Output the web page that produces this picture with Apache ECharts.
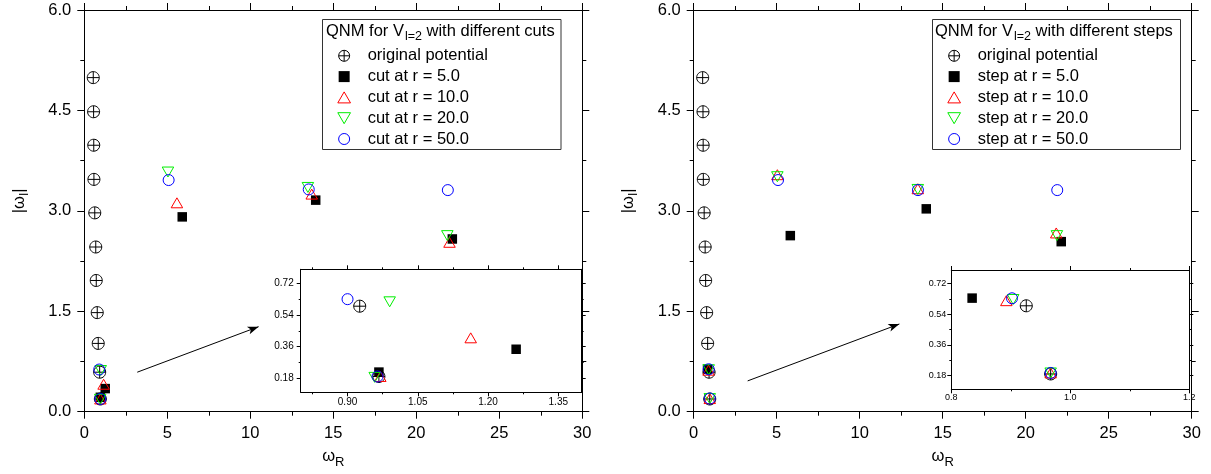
<!DOCTYPE html>
<html><head><meta charset="utf-8">
<script src="https://cdn.jsdelivr.net/npm/echarts@6/dist/echarts.min.js"></script>
<style>html,body{margin:0;padding:0;background:#fff}#c{width:1211px;height:474px}</style>
</head><body><div id="c"></div>
<script>
// ---------------- data ----------------
const origR = [0.967, 0.926, 0.84, 0.78, 0.72, 0.69, 0.63, 0.58, 0.57, 0.56, 0.54];
const origI = [0.19, 0.59, 1.02, 1.48, 1.96, 2.46, 2.97, 3.47, 3.98, 4.48, 4.99];

const cut5R  = [0.967, 1.26, 5.90, 13.94, 22.17];
const cut5I  = [0.215, 0.345, 2.91, 3.16, 2.58];
const cut10R = [0.970, 1.163, 5.58, 13.70, 22.00];
const cut10I = [0.190, 0.410, 3.12, 3.25, 2.53];
const cut20R = [0.958, 0.990, 5.04, 13.47, 21.87];
const cut20I = [0.185, 0.615, 3.58, 3.35, 2.63];
const cut50R = [0.964, 0.900, 5.08, 13.52, 21.90];
const cut50I = [0.190, 0.630, 3.46, 3.32, 3.31];

const step5R  = [0.835, 5.82, 14.01, 22.14];
const step5I  = [0.635, 2.63, 3.03, 2.54];
const step10R = [0.967, 0.8925, 5.04, 13.50, 21.84];
const step10I = [0.196, 0.620, 3.54, 3.33, 2.67];
const step20R = [0.967, 0.904, 5.04, 13.50, 21.88];
const step20I = [0.196, 0.627, 3.51, 3.32, 2.63];
const step50R = [0.967, 0.902, 5.08, 13.51, 21.90];
const step50I = [0.196, 0.634, 3.46, 3.31, 3.31];

const namesCut  = ['original potential', 'cut at r = 5.0', 'cut at r = 10.0', 'cut at r = 20.0', 'cut at r = 50.0'];
const namesStep = ['original potential', 'step at r = 5.0', 'step at r = 10.0', 'step at r = 20.0', 'step at r = 50.0'];
const titleCut  = ['QNM for V', 'l=2', ' with different cuts'];
const titleStep = ['QNM for V', 'l=2', ' with different steps'];

// tick values
const insetLXMajor = [0.90, 1.05, 1.20, 1.35];
const insetLXMinor = [0.825, 0.975, 1.125, 1.275];
const insetYMajor  = [0.18, 0.36, 0.54, 0.72];
const insetYMinor  = [0.27, 0.45, 0.63];

// annotation arrows (data coordinates)
const arrowL = [[3.19, 0.59], [10.5, 1.27]];
const arrowR = [[3.25, 0.46], [12.39, 1.31]];

// ---------------- styling ----------------
const FONT = 'Liberation Sans, Arial, Helvetica, sans-serif';
const BLACK = '#000';
const SYM = [
  {symbol: 'path://M10 0C15.52 0 20 4.48 20 10C20 15.52 15.52 20 10 20C4.48 20 0 15.52 0 10C0 4.48 4.48 0 10 0ZM0 10L20 10M10 0L10 20',
   symbolSize: 12, itemStyle: {color: 'rgba(0,0,0,0)', borderColor: '#000', borderWidth: 1, opacity: 1}},
  {symbol: 'path://M0 0L10 0L10 10L0 10Z', symbolSize: 9.5, itemStyle: {color: '#000', opacity: 1}},
  {symbol: 'path://M5 0L10 8.66L0 8.66Z', symbolSize: 11.5, itemStyle: {color: 'rgba(0,0,0,0)', borderColor: '#ff0000', borderWidth: 1, opacity: 1}},
  {symbol: 'path://M0 0L10 0L5 8.66Z', symbolSize: 11.5, itemStyle: {color: 'rgba(0,0,0,0)', borderColor: '#00ee00', borderWidth: 1, opacity: 1}},
  {symbol: 'circle', symbolSize: 11, itemStyle: {color: 'rgba(0,0,0,0)', borderColor: '#0000ff', borderWidth: 1, opacity: 1}}
];

function pairs(xs, ys) { return xs.map((x, i) => [x, ys[i]]); }

function mkSeries(names, sets, xi, yi, arrow) {
  return sets.map((s, k) => {
    const o = Object.assign({
      type: 'scatter', name: names[k], xAxisIndex: xi, yAxisIndex: yi,
      data: pairs(s[0], s[1]), symbolKeepAspect: true, animation: false,
      emphasis: {disabled: true}, z: 2 + k, clip: true
    }, JSON.parse(JSON.stringify(SYM[k])));
    if (k === 0 && arrow) {
      o.markLine = {
        silent: true, symbol: ['none', 'arrow'], symbolSize: [6, 11], animation: false,
        label: {show: false}, emphasis: {disabled: true},
        lineStyle: {color: '#000', width: 1, type: 'solid', opacity: 1},
        data: [[{coord: arrow[0]}, {coord: arrow[1]}]]
      };
    }
    return o;
  });
}

const cutSets  = [[origR, origI], [cut5R, cut5I], [cut10R, cut10I], [cut20R, cut20I], [cut50R, cut50I]];
const stepSets = [[origR, origI], [step5R, step5I], [step10R, step10I], [step20R, step20I], [step50R, step50I]];

// ---------------- axes ----------------
function ax(o) {
  return Object.assign({
    type: 'value', silent: true, axisPointer: {show: false},
    splitLine: {show: false},
    axisLine: {show: true, onZero: false, lineStyle: {color: BLACK, width: 1}},
    axisTick: {show: true, inside: false, lineStyle: {color: BLACK, width: 1}},
    axisLabel: {show: false}
  }, o);
}
const mainLbl = {color: BLACK, fontSize: 16.5, fontFamily: FONT};
const minorMain = {show: true, splitNumber: 2, length: 4, lineStyle: {color: BLACK, width: 1}};

function mainX(g, pos, withLabel) {
  const o = ax({gridIndex: g, position: pos, min: 0, max: 30, interval: 5,
    axisTick: {show: true, length: 7, lineStyle: {color: BLACK}}, minorTick: minorMain});
  if (withLabel) {
    o.axisLabel = Object.assign({show: true, margin: 13}, mainLbl);
    o.name = 'ω{s|R}'; o.nameLocation = 'middle'; o.nameGap = 32;
    o.nameTextStyle = {color: BLACK, fontSize: 16.5, fontFamily: FONT,
      rich: {s: {fontSize: 13, fontFamily: FONT, color: BLACK, padding: [12, 0, 0, 0]}}};
  }
  return o;
}
function mainY(g, pos, withLabel) {
  const o = ax({gridIndex: g, position: pos, min: 0, max: 6, interval: 1.5,
    axisTick: {show: true, length: 7, lineStyle: {color: BLACK}}, minorTick: minorMain});
  if (withLabel) {
    o.axisLabel = Object.assign({show: true, margin: 13, formatter: v => v.toFixed(1)}, mainLbl);
    o.name = '|ω{s|I}|'; o.nameLocation = 'middle'; o.nameGap = 54; o.nameRotate = 90;
    o.nameTextStyle = {color: BLACK, fontSize: 16.5, fontFamily: FONT, padding: [0, 0, 0, 20],
      rich: {s: {fontSize: 12, fontFamily: FONT, color: BLACK, padding: [10, 0, 0, 0]}}};
  }
  return o;
}
function customAx(g, pos, min, max, ticks, len, label) {
  const o = ax({gridIndex: g, position: pos, min: min, max: max,
    axisTick: {show: true, length: len, customValues: ticks, lineStyle: {color: BLACK}}});
  if (label) {
    o.axisLabel = Object.assign({show: true, customValues: ticks}, label);
  }
  return o;
}
function minorAx(g, pos, min, max, ticks) {
  const o = customAx(g, pos, min, max, ticks, 2, null);
  o.axisLine = {show: false, onZero: false};
  return o;
}

const insLblL = {color: BLACK, fontSize: 10, fontFamily: FONT};
const insLblR = {color: BLACK, fontSize: 9, fontFamily: FONT};

const xAxis = [
  mainX(0, 'bottom', true),   // 0
  mainX(0, 'top', false),     // 1
  mainX(1, 'bottom', true),   // 2
  mainX(1, 'top', false),     // 3
  customAx(2, 'bottom', 0.8, 1.4, insetLXMajor, 4, Object.assign({margin: 5, formatter: v => v.toFixed(2)}, insLblL)), // 4
  customAx(2, 'top', 0.8, 1.4, insetLXMajor, 4, null), // 5
  minorAx(2, 'bottom', 0.8, 1.4, insetLXMinor), // 6
  minorAx(2, 'top', 0.8, 1.4, insetLXMinor),    // 7
  ax({gridIndex: 3, position: 'bottom', min: 0.8, max: 1.2, interval: 0.2,
      axisTick: {show: true, length: 4, lineStyle: {color: BLACK}},
      minorTick: {show: true, splitNumber: 2, length: 2, lineStyle: {color: BLACK}},
      axisLabel: Object.assign({show: true, margin: 4, formatter: v => v.toFixed(1)}, insLblR)}), // 8
  ax({gridIndex: 3, position: 'top', min: 0.8, max: 1.2, interval: 0.2,
      axisTick: {show: true, length: 4, lineStyle: {color: BLACK}},
      minorTick: {show: true, splitNumber: 2, length: 2, lineStyle: {color: BLACK}}}) // 9
];
const yAxis = [
  mainY(0, 'left', true),   // 0
  mainY(0, 'right', false), // 1
  mainY(1, 'left', true),   // 2
  mainY(1, 'right', false), // 3
  customAx(2, 'left', 0.1, 0.8, insetYMajor, 4, Object.assign({margin: 7, formatter: v => v.toFixed(2)}, insLblL)), // 4
  customAx(2, 'right', 0.1, 0.8, insetYMajor, 4, null), // 5
  minorAx(2, 'left', 0.1, 0.8, insetYMinor),  // 6
  minorAx(2, 'right', 0.1, 0.8, insetYMinor), // 7
  customAx(3, 'left', 0.1, 0.8, insetYMajor, 4, Object.assign({margin: 5, formatter: v => v.toFixed(2)}, insLblR)), // 8
  customAx(3, 'right', 0.1, 0.8, insetYMajor, 4, null), // 9
  minorAx(3, 'left', 0.1, 0.8, insetYMinor),  // 10
  minorAx(3, 'right', 0.1, 0.8, insetYMinor)  // 11
];

const grid = [
  {left: 84.3, top: 10, width: 498, height: 401.7, outerBoundsMode: 'none'},
  {left: 693.7, top: 10, width: 498, height: 401.7, outerBoundsMode: 'none'},
  {left: 300.7, top: 269.3, width: 281, height: 123, outerBoundsMode: 'none'},
  {left: 951.3, top: 270, width: 238, height: 119.3, outerBoundsMode: 'none'}
];

const series = [].concat(
  mkSeries(namesCut, cutSets, 0, 0, arrowL),
  mkSeries(namesCut, cutSets, 4, 4, null),
  mkSeries(namesStep, stepSets, 2, 2, arrowR),
  mkSeries(namesStep, stepSets, 8, 8, null)
);

function legendAt(left, names) {
  return {
    data: names, orient: 'vertical', left: left, top: 45.8, padding: 0,
    itemWidth: 37, itemHeight: 11, itemGap: 0.8, selectedMode: false,
    itemStyle: {borderWidth: 1, opacity: 1},
    textStyle: {color: BLACK, fontSize: 16.5, fontFamily: FONT, lineHeight: 20}
  };
}

function titleText(x, parts) {
  return {
    type: 'text', x: x, y: 31.5, silent: true, z: 20,
    style: {
      text: '{a|' + parts[0] + '}{s|' + parts[1] + '}{a|' + parts[2] + '}',
      verticalAlign: 'middle', align: 'left', fill: BLACK,
      fontSize: 16.5, fontFamily: FONT,
      rich: {
        a: {fontSize: 16.5, fontFamily: FONT, fill: BLACK},
        s: {fontSize: 12.5, fontFamily: FONT, fill: BLACK, padding: [10, 0, 0, 1]}
      }
    }
  };
}

const option = {
  animation: false,
  backgroundColor: '#fff',
  grid: grid, xAxis: xAxis, yAxis: yAxis, series: series,
  legend: [legendAt(337.3, namesCut), legendAt(947.3, namesStep)],
  graphic: [
    {type: 'rect', silent: true, z: 20, shape: {x: 322.5, y: 19.5, width: 238.5, height: 130},
     style: {fill: 'none', stroke: '#333', lineWidth: 1}},
    {type: 'rect', silent: true, z: 20, shape: {x: 932.5, y: 19.5, width: 248, height: 130},
     style: {fill: 'none', stroke: '#333', lineWidth: 1}},
    titleText(326, titleCut),
    titleText(935, titleStep)
  ]
};

const chart = echarts.init(document.getElementById('c'), null, {renderer: 'canvas'});
chart.setOption(option);
</script>
</body></html>
